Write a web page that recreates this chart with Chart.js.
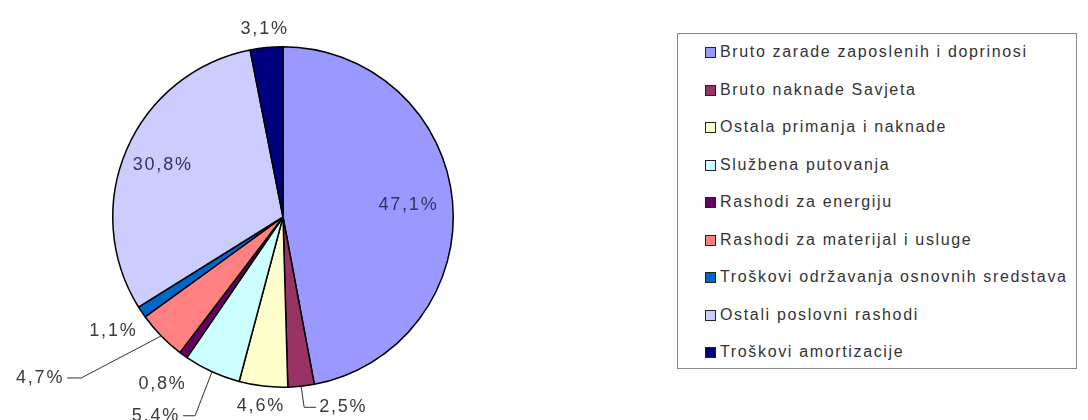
<!DOCTYPE html>
<html>
<head>
<meta charset="utf-8">
<script src="https://cdn.jsdelivr.net/npm/chart.js@4/dist/chart.umd.min.js"></script>
<style>
  html, body { margin: 0; padding: 0; background: #fff; }
  #wrap { position: relative; width: 1088px; height: 420px; overflow: hidden; }
  #pieBox { position: absolute; left: 0; top: 0; width: 566px; height: 420px; }
  #legendBox {
    position: absolute; left: 677px; top: 33px; width: 400px; height: 336px;
    border: 1px solid #8a8a8a; box-sizing: border-box;
    font-family: "Liberation Sans", Arial, sans-serif; font-size: 16px; color: #333;
    letter-spacing: 1.65px;
  }
  .lg-item { position: absolute; left: 27px; height: 20px; line-height: 20px; white-space: nowrap; }
  .lg-sw { display: inline-block; width: 9px; height: 9px; border: 1.5px solid #222; vertical-align: -1px; margin-right: 4px; letter-spacing: 0; }
</style>
</head>
<body>
<div id="wrap">
  <div id="pieBox"><canvas id="chartPie"></canvas></div>
  <div id="legendBox"></div>
</div>
<script>
// kategorije i udjeli (%)
const categories = [
  'Bruto zarade zaposlenih i doprinosi',
  'Bruto naknade Savjeta',
  'Ostala primanja i naknade',
  'Službena putovanja',
  'Rashodi za energiju',
  'Rashodi za materijal i usluge',
  'Troškovi održavanja osnovnih sredstava',
  'Ostali poslovni rashodi',
  'Troškovi amortizacije'
];
const shares = [47.1, 2.5, 4.6, 5.4, 0.8, 4.7, 1.1, 30.8, 3.1];
const shareLabels = ['47,1%', '2,5%', '4,6%', '5,4%', '0,8%', '4,7%', '1,1%', '30,8%', '3,1%'];
const colors = ['#9999FF', '#993366', '#FFFFCC', '#CCFFFF', '#660066', '#FF8080', '#0066CC', '#CCCCFF', '#000080'];

// kako se ispisuje natpis uz svaki isječak (r = udio poluprečnika, leader = linija do natpisa)
const labelStyle = [
  { r: 0.74, color: '#333366' },
  { leader: [3, 21, 12], align: 'left' },
  { r: 1.12 },
  { leader: [-17, 44, -12], align: 'right' },
  { r: 1.21 },
  { leader: [-80, 42, -14], align: 'right' },
  { r: 1.20 },
  { r: 0.77, color: '#333366' },
  { r: 1.11 }
];

// legenda
const lg = document.getElementById('legendBox');
categories.forEach((c, i) => {
  const d = document.createElement('div');
  d.className = 'lg-item';
  d.style.top = (8 + i * 37.5) + 'px';
  const sw = document.createElement('span');
  sw.className = 'lg-sw'; sw.style.background = colors[i];
  d.appendChild(sw);
  d.appendChild(document.createTextNode(c));
  lg.appendChild(d);
});

const pieLabels = {
  id: 'pieLabels',
  afterDatasetsDraw(chart) {
    const ctx = chart.ctx;
    const meta = chart.getDatasetMeta(0);
    ctx.save();
    ctx.font = '18px "Liberation Sans", Arial, sans-serif';
    ctx.letterSpacing = '1.8px';
    ctx.textBaseline = 'middle';
    meta.data.forEach((arc, i) => {
      const p = arc.getProps(['x', 'y', 'startAngle', 'endAngle', 'outerRadius'], true);
      const a = (p.startAngle + p.endAngle) / 2;
      const st = labelStyle[i];
      ctx.fillStyle = st.color || '#3a3a3a';
      if (st.leader) {
        const ex = p.x + Math.cos(a) * p.outerRadius, ey = p.y + Math.sin(a) * p.outerRadius;
        const [dx, dy, hx] = st.leader;
        ctx.strokeStyle = '#333'; ctx.lineWidth = 1;
        ctx.beginPath();
        ctx.moveTo(ex, ey); ctx.lineTo(ex + dx, ey + dy); ctx.lineTo(ex + dx + hx, ey + dy);
        ctx.stroke();
        ctx.textAlign = st.align;
        ctx.fillText(shareLabels[i], ex + dx + hx + (hx > 0 ? 3 : -3), ey + dy);
      } else {
        ctx.textAlign = 'center';
        ctx.fillText(shareLabels[i], p.x + Math.cos(a) * p.outerRadius * st.r, p.y + Math.sin(a) * p.outerRadius * st.r);
      }
    });
    ctx.restore();
  }
};

new Chart(document.getElementById('chartPie').getContext('2d'), {
  type: 'pie',
  data: {
    labels: categories,
    datasets: [{ data: shares, backgroundColor: colors, borderColor: '#000', borderWidth: 1.5 }]
  },
  options: {
    responsive: true,
    maintainAspectRatio: false,
    animation: false,
    layout: { padding: { top: 46, bottom: 32, left: 0, right: 0 } },
    plugins: { legend: { display: false }, tooltip: { enabled: false } }
  },
  plugins: [pieLabels]
});
</script>
</body>
</html>
